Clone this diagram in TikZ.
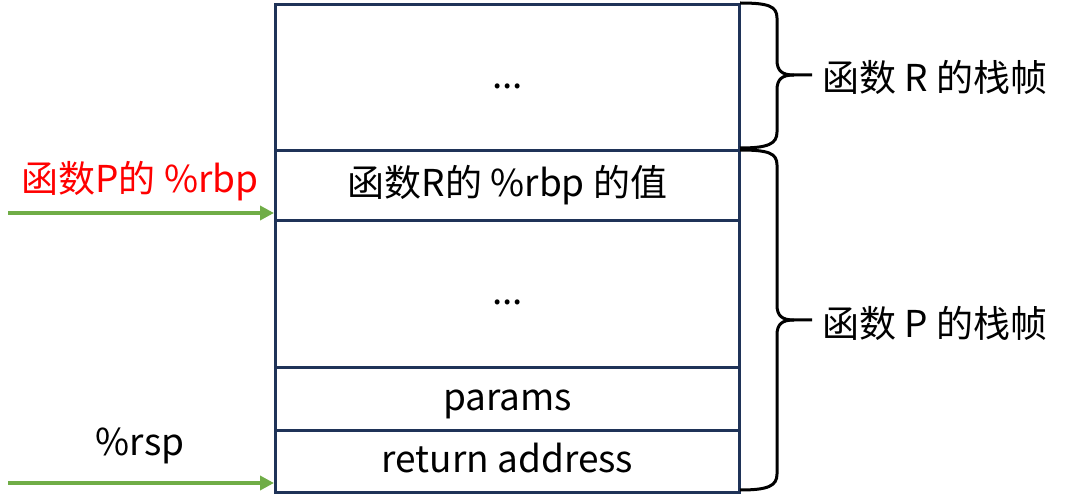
\documentclass[tikz,border=0pt]{standalone}
\usepackage{fontspec}
\setmainfont{Noto Sans CJK SC}
\usetikzlibrary{arrows.meta}
\definecolor{boxc}{HTML}{1F3358}
\definecolor{arrc}{HTML}{70AD47}
\tikzset{
  cell/.style={draw=boxc, line width=3pt, minimum width=464pt, inner sep=0pt, anchor=north west, text height=26pt, text depth=4pt, font=\fontsize{37}{40}\selectfont},
  garrow/.style={draw=arrc, line width=4pt, -{Triangle[length=14pt,width=14pt]}},
  brace/.style={draw=black, line width=3pt},
  lbl/.style={font=\fontsize{37}{40}\selectfont, inner sep=0pt}
}
\begin{document}
\begin{tikzpicture}[x=1pt,y=-1pt]
\useasboundingbox (0,0) rectangle (1070,502);
\node[cell, minimum height=146pt] (r1) at (274,3) {...};
\node[cell, minimum height=70pt] (r2) at (274,149) {函数R的 \%rbp 的值};
\node[cell, minimum height=147pt] (r3) at (274,219) {...};
\node[cell, minimum height=63pt] (r4) at (274,366) {params};
\node[cell, minimum height=62pt] (r5) at (274,429) {return address};
% braces
\draw[brace] (740,3) .. controls (768,3) and (777,6) .. (777,18) -- (777,60) .. controls (777,71) and (782,75) .. (794,75) -- (812,75);
\draw[brace] (794,75) .. controls (782,75) and (777,79) .. (777,90) -- (777,132) .. controls (777,144) and (768,148) .. (740,148);
\draw[brace] (740,150) .. controls (768,150) and (777,153) .. (777,165) -- (777,305) .. controls (777,316) and (782,320) .. (794,320) -- (812,320);
\draw[brace] (794,320) .. controls (782,320) and (777,324) .. (777,335) -- (777,474) .. controls (777,486) and (768,490) .. (740,490);
\node[lbl, anchor=west] (lR) at (822,77) {函数 R 的栈帧};
\node[lbl, anchor=west] (lP) at (822,323) {函数 P 的栈帧};
% left labels and arrows
\node[lbl, text=red] (rbp) at (140,181) {函数P的 \%rbp};
\node[lbl] (rsp) at (140,446) {\%rsp};
\coordinate (a1) at (8,213);
\coordinate (a2) at (8,483);
\draw[garrow] (a1) -- (a1 -| r2.west);
\draw[garrow] (a2) -- (a2 -| r5.west);
\end{tikzpicture}
\end{document}
